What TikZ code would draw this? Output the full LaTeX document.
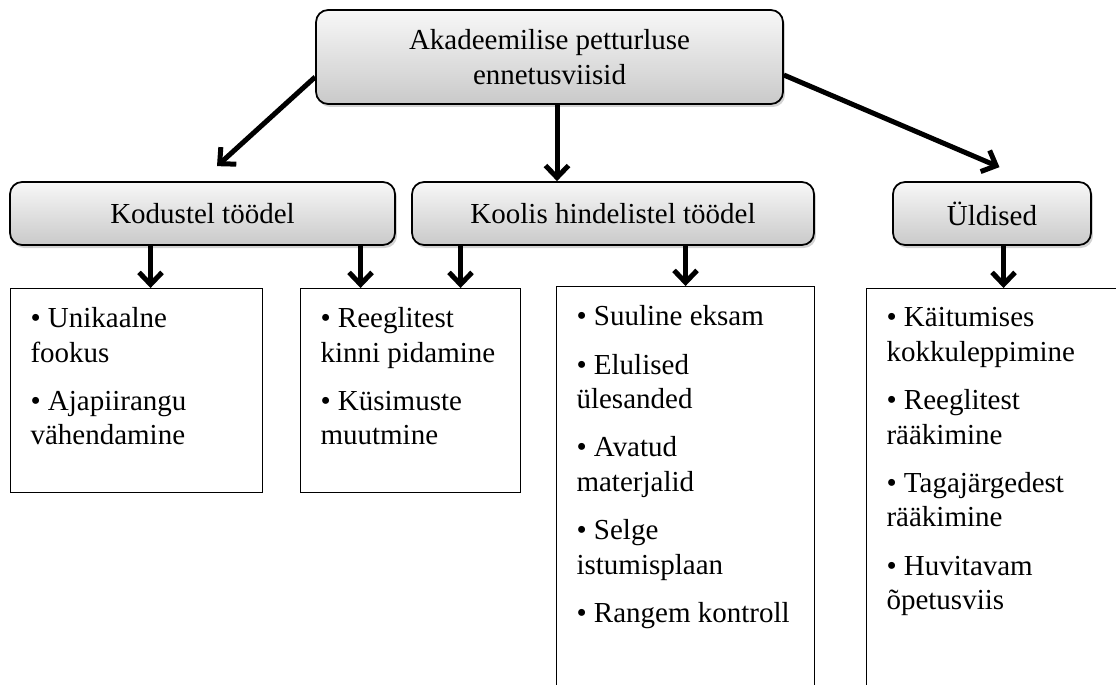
\documentclass[tikz,border=0pt]{standalone}
\usepackage{fontspec}
\setmainfont{Liberation Serif}
\usetikzlibrary{positioning,calc,arrows.meta,shadows}
\tikzset{
    headbox/.style={rectangle, rounded corners=0.24cm, draw=black, line width=1pt, top color=gray!6, bottom color=gray!42, drop shadow={shadow xshift=0.04cm, shadow yshift=-0.06cm, opacity=0.35}, font=\fontsize{16.5}{19.6}\selectfont, align=center, inner sep=0pt},
    listbox/.style={rectangle, draw=black, line width=0.65pt, fill=white, anchor=north west, inner xsep=0.4cm, inner ysep=0.38cm, font=\fontsize{16.5}{19.6}\selectfont},
    arr/.style={line width=0.1cm, -{Straight Barb[length=0.24cm, width=0.46cm]}}
}

\begin{document}
\begin{tikzpicture}[x=0.02cm, y=-0.02cm]
    \useasboundingbox (0,0) rectangle (1116,684);

    \node[headbox, minimum width=9.34cm, minimum height=1.88cm] (root) at (549.5,57) {Akadeemilise petturluse\\ennetusviisid};
    \node[headbox, minimum width=7.7cm, minimum height=1.26cm] (k1) at (202.5,213.5) {Kodustel töödel};
    \node[headbox, minimum width=8.04cm, minimum height=1.26cm] (k2) at (613,213.5) {Koolis hindelistel töödel};
    \node[headbox, minimum width=3.96cm, minimum height=1.26cm] (k3) at (992,213.5) {Üldised};

    \node[listbox] (b1) at (10,288) {\parbox[t][3.32cm][t]{4.24cm}{\raggedright • Unikaalne\\fookus\\[0.28cm]• Ajapiirangu\\vähendamine}};
    \node[listbox] (b2) at (300,288) {\parbox[t][3.32cm][t]{3.6cm}{\raggedright • Reeglitest\\kinni pidamine\\[0.28cm]• Küsimuste\\muutmine}};
    \node[listbox] (b3) at (556,286) {\parbox[t][7.96cm][t]{4.36cm}{\raggedright • Suuline eksam\\[0.28cm]• Elulised\\ülesanded\\[0.28cm]• Avatud\\materjalid\\[0.28cm]• Selge\\istumisplaan\\[0.28cm]• Rangem kontroll}};
    \node[listbox] (b4) at (866,288) {\parbox[t][7.92cm][t]{4.68cm}{\raggedright • Käitumises\\kokkuleppimine\\[0.28cm]• Reeglitest\\rääkimine\\[0.28cm]• Tagajärgedest\\rääkimine\\[0.28cm]• Huvitavam\\õpetusviis}};

    \draw[arr] ([yshift=-0.4cm]root.west) -- ([xshift=0.29cm, yshift=0.3cm]k1.north);
    \draw[arr] ([xshift=0.15cm]root.south) -- ([xshift=0.15cm]root.south |- k2.north);
    \draw[arr] ([yshift=-0.36cm]root.east) -- ([xshift=0.15cm, yshift=0.28cm]k3.north);

    \draw[arr] ([xshift=0.28cm]b1.north |- k1.south) -- ([xshift=0.28cm]b1.north);
    \draw[arr] ([xshift=-1cm]b2.north |- k1.south) -- ([xshift=-1cm]b2.north);
    \draw[arr] ([xshift=1cm]b2.north |- k2.south) -- ([xshift=1cm]b2.north);
    \draw[arr] (b3.north |- k2.south) -- (b3.north);
    \draw[arr] (b4.north |- k3.south) -- (b4.north);
\end{tikzpicture}
\end{document}
